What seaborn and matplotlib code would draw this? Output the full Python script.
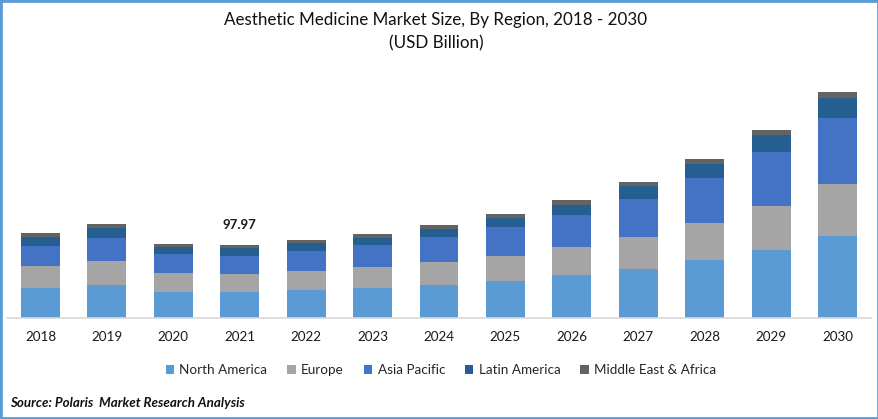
import matplotlib
matplotlib.use("Agg")
import matplotlib.pyplot as plt
import numpy as np
import pandas as pd
import seaborn as sns
from matplotlib.patches import Rectangle

years = ["2018", "2019", "2020", "2021", "2022", "2023", "2024", "2025", "2026", "2027", "2028", "2029", "2030"]

# values (USD billion)
north_america = [40.3, 44.3, 34.9, 34.9, 37.6, 40.3, 44.3, 49.7, 57.7, 65.8, 77.8, 91.3, 110.0]
europe = [29.5, 32.2, 25.5, 24.2, 25.5, 28.2, 30.9, 33.6, 37.6, 42.9, 49.7, 59.0, 69.8]
asia_pacific = [26.8, 30.9, 25.5, 24.2, 26.8, 29.5, 33.6, 38.9, 42.9, 51.0, 60.4, 72.5, 88.6]
latin_america = [12.1, 13.4, 9.4, 10.7, 10.7, 9.4, 10.7, 12.1, 13.4, 17.4, 18.8, 22.8, 26.8]
middle_east = [5.4, 5.4, 4.0, 3.97, 4.0, 5.4, 5.4, 5.4, 6.7, 5.4, 6.7, 6.7, 8.1]

regions = ["North America", "Europe", "Asia Pacific", "Latin America", "Middle East & Africa"]
colors = ["#5B9BD5", "#A5A5A5", "#4472C4", "#255E91", "#636363"]

df = pd.DataFrame(
    dict(zip(regions, [north_america, europe, asia_pacific, latin_america, middle_east])),
    index=years,
)

sns.set_theme(style="white")
plt.rcParams["font.family"] = ["Lato", "DejaVu Sans"]

W, H = 879, 419
fig = plt.figure(figsize=(W / 100, H / 100), dpi=100)
ax = fig.add_axes([7.3 / W, (H - 318) / H, 863.4 / W, 258 / H])

# Stacked bars
bottom = np.zeros(len(years))
for region, color in zip(regions, colors):
    sns.barplot(
        x=years, y=df[region].values, bottom=bottom, color=color,
        saturation=1, width=0.587, label=region, linewidth=0, ax=ax, legend=False,
    )
    bottom = bottom + df[region].values

ax.set_xlim(-0.5, 12.5)
ax.set_ylim(0, 346)
ax.set_yticks([])
ax.tick_params(axis="x", length=0, pad=9.2, labelsize=9.7, labelcolor="#1a1a1a")

for side in ["top", "left", "right"]:
    ax.spines[side].set_visible(False)
ax.spines["bottom"].set_color("#D9D9D9")
ax.spines["bottom"].set_linewidth(1.2)

ax.annotate(
    "97.97", xy=(3, bottom[3]), xytext=(0, 10), textcoords="offset points",
    ha="center", va="bottom", fontsize=9.5, fontweight="bold", color="#1a1a1a",
)

fig.text(436 / W, 1 - 20 / H, "Aesthetic Medicine Market Size, By Region, 2018 - 2030",
         ha="center", va="center", fontsize=12.25, color="#111111")
fig.text(436 / W, 1 - 43 / H, "(USD Billion)",
         ha="center", va="center", fontsize=12.25, color="#111111")

handles, labels = ax.get_legend_handles_labels()
fig.legend(
    handles[:5], labels[:5], loc="center", bbox_to_anchor=(441 / W, 1 - 370 / H),
    ncol=5, frameon=False, fontsize=9.7, handlelength=0.62, handleheight=0.62,
    handletextpad=0.4, columnspacing=1.48, labelcolor="#262626",
)

fig.text(10 / W, 1 - 403 / H, "Source: Polaris  Market Research Analysis",
         ha="left", va="center", fontsize=9.6, fontweight="bold", fontstyle="italic", color="#111111")

# Blue frame around the picture
fig.add_artist(Rectangle((0, 0), 1, 1, transform=fig.transFigure, fill=False,
                         edgecolor="#5B9BD5", linewidth=3.4, zorder=10))

fig.savefig("out.png", dpi=100)
